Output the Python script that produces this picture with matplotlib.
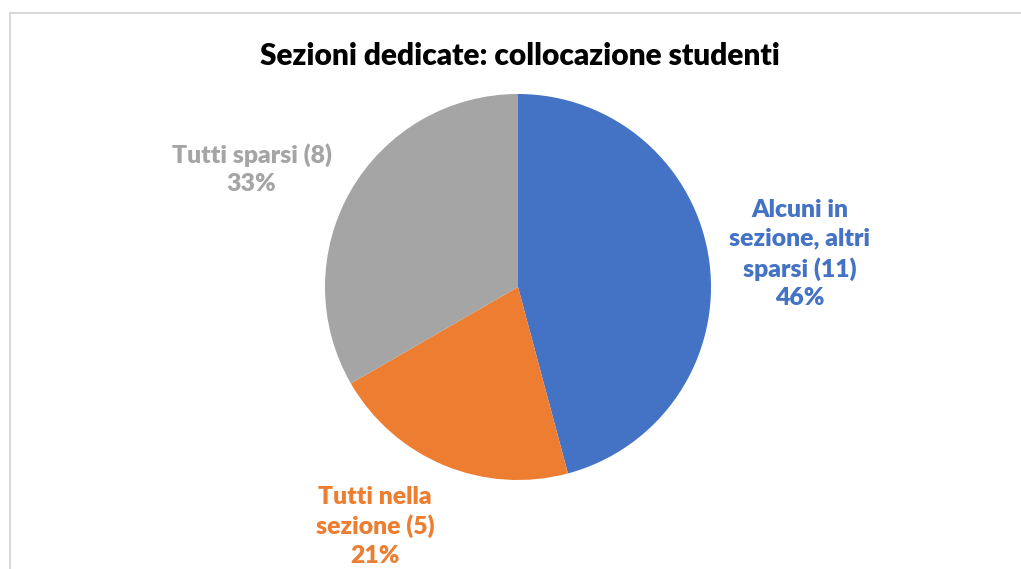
import matplotlib
matplotlib.use("Agg")
import matplotlib.pyplot as plt
from matplotlib.patches import Rectangle

plt.rcParams['font.family'] = ['Lato', 'DejaVu Sans']

# dati
categorie = ['Alcuni in\nsezione, altri\nsparsi (11)', 'Tutti nella\nsezione (5)', 'Tutti sparsi (8)']
valori = [11, 5, 8]
colori = ['#4472C4', '#ED7D31', '#A5A5A5']
titolo = 'Sezioni dedicate: collocazione studenti'

# posizione etichette (coordinate del grafico)
pos_etichette = [(1.46, 0.17), (-0.74, -1.24), (-1.38, 0.61)]

fig = plt.figure(figsize=(10.21, 5.69), dpi=100)

# bordo del grafico
fig.patches.append(Rectangle((10/1021, -0.05), 1.1, (569-13)/569 + 0.05,
                             transform=fig.transFigure, fill=False,
                             edgecolor='#D9D9D9', linewidth=1.5))

cx, cy, r = 518, 287, 193
ax = fig.add_axes([(cx - r)/1021, (569 - cy - r)/569, 2*r/1021, 2*r/569])
ax.pie(valori, colors=colori, startangle=90, counterclock=False,
       radius=1, wedgeprops=dict(linewidth=0))
ax.set_xlim(-1, 1)
ax.set_ylim(-1, 1)
ax.set_aspect('equal')
ax.axis('off')

tot = sum(valori)
for nome, v, c, (x, y) in zip(categorie, valori, colori, pos_etichette):
    ax.text(x, y, f'{nome}\n{round(v/tot*100)}%', color=c, fontsize=17.8,
            fontweight='heavy', ha='center', va='center', linespacing=1.37,
            clip_on=False)

fig.text(520/1021, 1 - 56/569, titolo, ha='center', va='center',
         fontsize=21.5, fontweight='heavy', color='black')

fig.savefig('out.png', dpi=100)
